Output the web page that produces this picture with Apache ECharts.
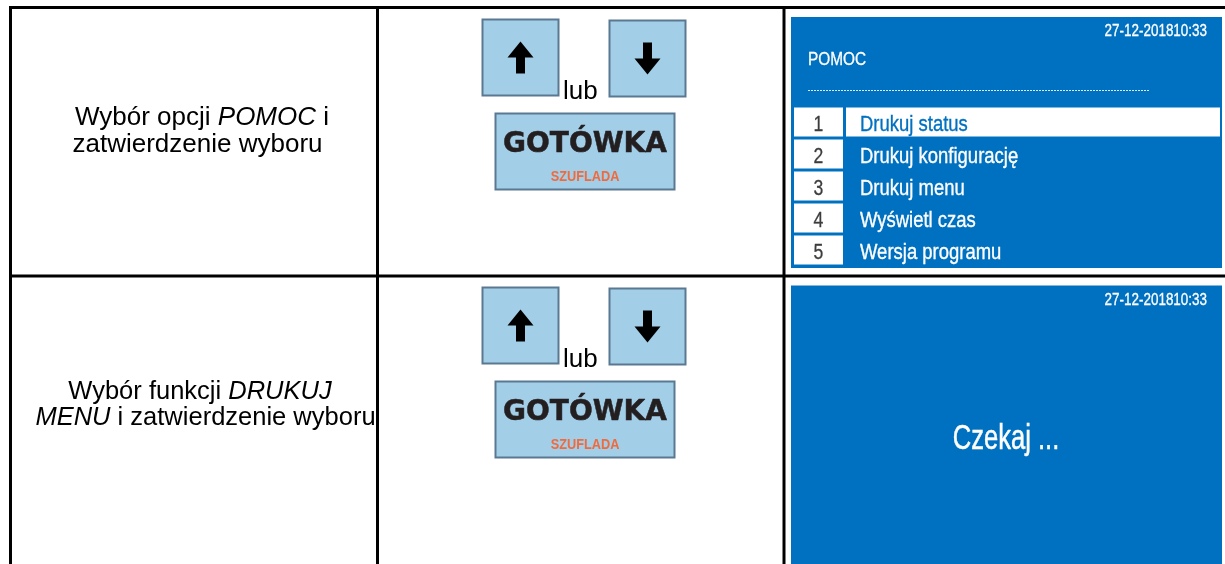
<!DOCTYPE html>
<html><head><meta charset="utf-8">
<script src="https://cdn.jsdelivr.net/npm/echarts@6/dist/echarts.min.js"></script>
<style>html,body{margin:0;padding:0;background:#fff}#c{width:1225px;height:564px}</style>
</head><body><div id="c"></div>
<script>
// ---- content ----
const stepLines = [
  ["Wybór opcji {i|POMOC} i", "zatwierdzenie wyboru"],
  ["Wybór funkcji {i|DRUKUJ}", "{i|MENU} i zatwierdzenie wyboru"]
];
const keyAlt = "lub";
const keyMain = "GOTÓWKA";
const keySub = "SZUFLADA";
const screenDate = "27-12-201810:33";
const menuTitle = "POMOC";
const menuNumbers = ["1", "2", "3", "4", "5"];
const menuItems = ["Drukuj status", "Drukuj konfigurację", "Drukuj menu", "Wyświetl czas", "Wersja programu"];
const selectedItem = 0;
const waitText = "Czekaj ...";

// ---- layout ----
const ARIAL = "'Liberation Sans', Arial, sans-serif";
const WIDE = "'DejaVu Sans', sans-serif";
const BLUE = "#0070c0";
const KEYFILL = "#a3cee8";
const KEYSTROKE = "#5a7890";
const ROWPITCH = 268;
const stepLayout = [
  { size: 26, xs: [202, 197.5], ys: [118, 145] },
  { size: 25.5, xs: [200, 205.5], ys: [392, 418] }
];

const els = [];
function rect(x, y, w, h, style) { els.push({ type: 'rect', shape: { x, y, width: w, height: h }, style }); }
function text(x, y, t, st, sx, heavy) {
  const al = st.align || 'left';
  const extra = heavy ? { stroke: st.fill, lineWidth: heavy } : {};
  els.push({ type: 'text', x, y, scaleX: sx || 1, scaleY: 1, originX: 0, originY: 0,
    style: Object.assign({ text: t, align: al, textAlign: al, verticalAlign: 'middle', textVerticalAlign: 'middle' }, extra, st) });
}

// table lines
rect(9, 6, 1216, 3, { fill: '#000' });
rect(9, 274.5, 1216, 3, { fill: '#000' });
rect(9, 6, 3, 558, { fill: '#000' });
rect(376, 6, 3, 558, { fill: '#000' });
rect(782.5, 6, 3, 558, { fill: '#000' });

// column 1 texts
stepLines.forEach((lines, r) => {
  const L = stepLayout[r];
  const f = L.size + "px " + ARIAL;
  lines.forEach((t, k) => {
    text(L.xs[k], L.ys[k], t, {
      align: 'center', font: f, fill: '#000',
      rich: { i: { font: "italic " + f, fill: '#000' } }
    });
  });
});

// column 2 keys
function arrow(cx, cy, s) {
  const pts = [[cx, cy + 16 * s], [cx + 13, cy], [cx + 4.5, cy], [cx + 4.5, cy - 16 * s], [cx - 4.5, cy - 16 * s], [cx - 4.5, cy], [cx - 13, cy]];
  els.push({ type: 'polygon', shape: { points: pts }, style: { fill: '#000' } });
}
for (let r = 0; r < 2; r++) {
  const dy = r * ROWPITCH;
  const ks = { fill: KEYFILL, stroke: KEYSTROKE, lineWidth: 2 };
  rect(482.5, 19.5 + dy, 76, 76, ks);
  arrow(520.5, 57.5 + dy, -1);
  rect(609.5, 20.5 + dy, 76, 76, ks);
  arrow(647.5, 58.5 + dy, 1);
  text(563, 92 + dy, keyAlt, { font: "26px " + ARIAL, fill: '#000' });
  rect(495.5, 113.5 + dy, 179, 76, ks);
  text(585, 145 + dy, keyMain, { align: 'center', font: "bold 28px " + WIDE, fill: '#231f20' }, 1, 0.5);
  text(585, 176.5 + dy, keySub, { align: 'center', font: "bold 15px " + ARIAL, fill: '#ef6a3c' }, 0.85);
}

// column 3 screen 1
rect(791, 17, 431, 251, { fill: BLUE });
text(1207, 32, screenDate, { align: 'right', font: "16px " + ARIAL, fill: '#fff' }, 0.84, 0.3);
text(808, 60, menuTitle, { font: "19px " + ARIAL, fill: '#fff' }, 0.81, 0.3);
els.push({ type: 'line', shape: { x1: 808, y1: 90.5, x2: 1150, y2: 90.5 }, style: { stroke: 'rgba(255,255,255,0.85)', lineWidth: 1, lineDash: [2, 1] } });
menuItems.forEach((item, i) => {
  const top = 107.5 + 32 * i;
  rect(794, top, 49, 29, { fill: '#fff' });
  if (i === selectedItem) rect(846, top, 374, 29, { fill: '#fff' });
  text(818.5, top + 17, menuNumbers[i], { align: 'center', font: "22px " + ARIAL, fill: '#3c3c3c' }, 0.8, 0.3);
  text(860, top + 17, item, { font: "22px " + ARIAL, fill: i === selectedItem ? BLUE : '#fff' }, 0.84, 0.35);
});

// column 3 screen 2
rect(791, 285.5, 431, 280, { fill: BLUE });
text(1207, 301, screenDate, { align: 'right', font: "16px " + ARIAL, fill: '#fff' }, 0.84, 0.3);
text(1006, 439, waitText, { align: 'center', font: "35px " + ARIAL, fill: '#fff' }, 0.73, 0.5);

const chart = echarts.init(document.getElementById('c'), null, { renderer: 'canvas', width: 1225, height: 564 });
chart.setOption({ animation: false, backgroundColor: '#fff', graphic: { elements: els } });
</script>
</body></html>
